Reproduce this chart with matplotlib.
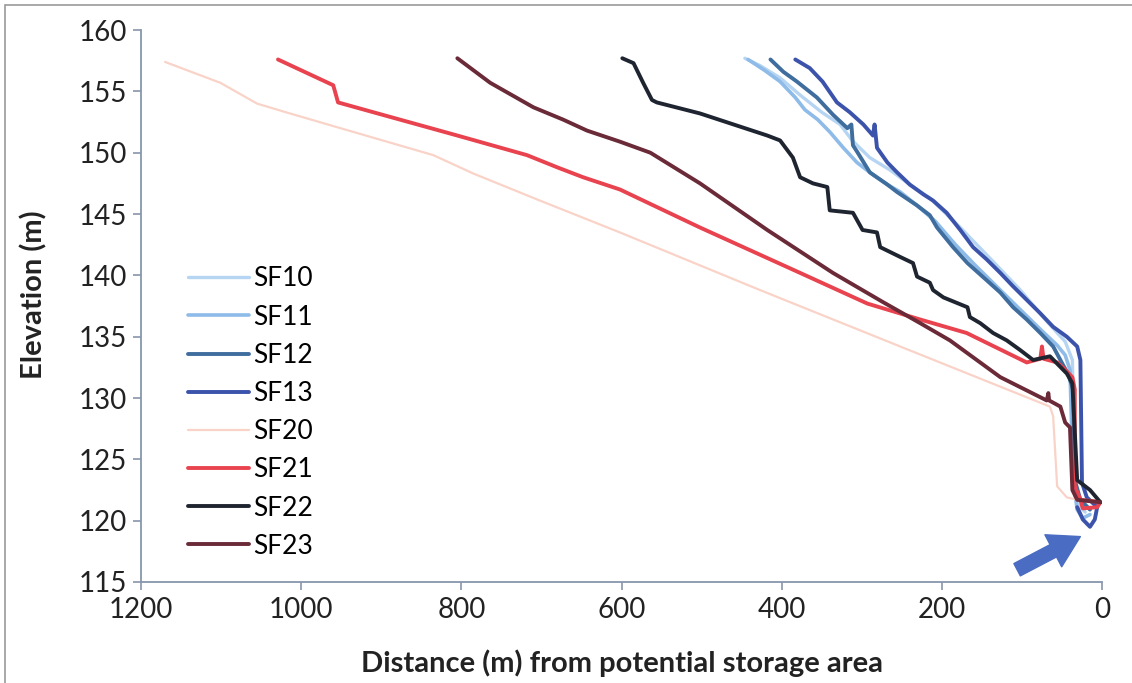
import matplotlib
matplotlib.use("Agg")
import matplotlib.pyplot as plt
from matplotlib.patches import Rectangle

plt.rcParams['font.family'] = ['Lato', 'DejaVu Sans']

# series (distance m, elevation m)
sf10_x = [446, 427, 402, 377, 350, 327, 312, 290, 265, 240, 215, 177, 140, 102, 71, 46, 37, 34, 30, 21]
sf10_y = [157.7, 157.1, 156.1, 154.7, 153.3, 152.3, 151.0, 149.6, 148.6, 147.4, 146.3, 143.9, 141.4, 138.8,
          136.4, 134.6, 133.1, 123.3, 121.3, 120.7]

sf11_x = [442, 421, 402, 383, 371, 355, 340, 323, 306, 286, 268, 252, 231, 208, 183, 158, 127, 102, 77, 56,
          46, 40, 36, 31, 24, 15]
sf11_y = [157.6, 156.7, 155.8, 154.5, 153.5, 152.7, 151.7, 150.4, 149.2, 148.2, 147.4, 146.8, 145.7, 144.4,
          142.5, 140.8, 138.8, 137.2, 135.6, 134.3, 133.5, 132.3, 123.3, 120.9, 120.2, 120.5]

sf12_x = [414, 398, 381, 356, 336, 318, 313, 311, 306, 290, 268, 256, 231, 215, 206, 186, 168, 144, 127, 111,
          94, 77, 61, 52, 42, 36, 34, 27, 15]
sf12_y = [157.6, 156.6, 155.8, 154.5, 153.1, 152.0, 152.3, 150.6, 150.1, 148.4, 147.4, 146.8, 145.7, 144.9,
          143.9, 142.3, 141.0, 139.6, 138.6, 137.4, 136.4, 135.3, 134.2, 133.1, 131.9, 130.7, 123.3, 121.7, 120.9]

sf13_x = [383, 365, 349, 331, 315, 298, 286, 284, 281, 268, 256, 240, 223, 211, 194, 177, 161, 144, 127, 111,
          94, 77, 61, 44, 31, 27, 25, 19, 6, 9, 15, 24, 31]
sf13_y = [157.6, 156.9, 155.8, 154.1, 153.3, 152.3, 151.4, 152.3, 150.4, 149.2, 148.4, 147.4, 146.6, 146.1,
          145.1, 143.7, 142.3, 141.3, 140.2, 139.1, 138.0, 136.9, 135.8, 135.0, 134.2, 133.1, 123.1, 121.9,
          121.1, 120.1, 119.5, 120.1, 121.1]

sf20_x = [1170, 1101, 1055, 1014, 951, 835, 785, 702, 602, 427, 252, 65, 61, 56, 44, 31]
sf20_y = [157.4, 155.7, 154.0, 153.2, 152.0, 149.8, 148.3, 146.1, 143.5, 138.8, 134.2, 129.3, 128.5, 122.8,
          121.9, 121.7]

sf21_x = [1029, 960, 954, 910, 805, 718, 680, 648, 602, 502, 377, 293, 227, 169, 94, 77, 75, 73, 56, 49, 37,
          34, 34, 27, 24, 6, 2, 14, 27]
sf21_y = [157.6, 155.5, 154.1, 153.3, 151.4, 149.8, 148.8, 148.0, 147.0, 143.9, 140.2, 137.7, 136.4, 135.3,
          132.9, 133.2, 134.2, 133.2, 132.9, 132.5, 131.7, 130.7, 122.8, 121.7, 121.0, 121.1, 121.5, 121.6, 121.7]

sf22_x = [599, 585, 573, 562, 556, 502, 418, 402, 386, 377, 361, 343, 340, 311, 299, 281, 277, 252, 236, 231,
          215, 211, 198, 168, 165, 152, 136, 119, 102, 86, 65, 44, 37, 31, 15, 2]
sf22_y = [157.7, 157.3, 155.7, 154.3, 154.1, 153.2, 151.4, 151.0, 149.6, 148.0, 147.5, 147.2, 145.3, 145.1,
          143.7, 143.5, 142.3, 141.5, 141.0, 139.9, 139.4, 138.8, 138.2, 137.4, 136.6, 136.1, 135.3, 134.7,
          133.9, 133.1, 133.4, 132.0, 131.2, 123.3, 122.5, 121.5]

sf23_x = [805, 764, 710, 673, 643, 602, 564, 502, 418, 336, 273, 227, 190, 127, 69, 67, 66, 52, 46, 40, 37,
          31, 2]
sf23_y = [157.7, 155.7, 153.7, 152.7, 151.8, 150.9, 150.0, 147.5, 143.7, 140.2, 137.8, 136.1, 134.7, 131.7,
          129.8, 130.4, 129.8, 129.3, 128.0, 127.6, 122.5, 121.7, 121.5]

labels = ['SF10', 'SF11', 'SF12', 'SF13', 'SF20', 'SF21', 'SF22', 'SF23']
xs = [sf10_x, sf11_x, sf12_x, sf13_x, sf20_x, sf21_x, sf22_x, sf23_x]
ys = [sf10_y, sf11_y, sf12_y, sf13_y, sf20_y, sf21_y, sf22_y, sf23_y]
colors = ['#b6d5f2', '#8ebbe8', '#3f6d9e', '#3b53aa', '#f9d3c8', '#e8434f', '#1f2530', '#6b2a38']
widths = [2.4, 2.6, 2.8, 2.8, 1.6, 2.8, 2.8, 2.8]

fig = plt.figure(figsize=(11.32, 6.83), dpi=100)
ax = fig.add_axes([0.1246, 0.1479, 0.8489, 0.8081])

for x, y, c, w, lab in zip(xs, ys, colors, widths, labels):
    ax.plot(x, y, color=c, lw=w, label=lab, solid_joinstyle='round', solid_capstyle='round')

ax.set_xlim(1200, 0)
ax.set_ylim(115, 160)
ax.set_xticks(range(0, 1201, 200))
ax.set_yticks(range(115, 161, 5))

axis_col = '#8796ac'
for s in ['top', 'right']:
    ax.spines[s].set_visible(False)
for s in ['left', 'bottom']:
    ax.spines[s].set_color(axis_col)
    ax.spines[s].set_linewidth(1.3)
ax.tick_params(axis='both', direction='out', length=6, width=1.2, color=axis_col,
               labelsize=20, labelcolor='#222222')
ax.tick_params(axis='y', pad=4)
ax.tick_params(axis='x', pad=5)

ax.set_ylabel('Elevation (m)', fontsize=21, fontweight='bold', color='#222222')
ax.yaxis.set_label_coords(-0.097, 0.52)
ax.set_xlabel('Distance (m) from potential storage area', fontsize=21, fontweight='bold', color='#222222')
ax.xaxis.set_label_coords(0.5, -0.122)

ax.legend(loc='center left', bbox_to_anchor=(0.049, 0.307), frameon=False, fontsize=19,
          handlelength=2.3, handletextpad=0.15, labelspacing=0.5, borderpad=0, borderaxespad=0)

# arrow pointing at the low point
ax.annotate('', xy=(27, 118.7), xytext=(106, 116.0),
            arrowprops=dict(arrowstyle='simple,head_length=1.1,head_width=1.3,tail_width=0.5',
                            mutation_scale=20, color='#4a6cc2', shrinkA=0, shrinkB=0))

# outer chart frame
fig.patches.append(Rectangle((5 / 1132, -0.05), 1.1, 1.05 - 5 / 683, transform=fig.transFigure,
                             fill=False, edgecolor='#9a9a9a', lw=1.2))

fig.savefig('out.png', dpi=100)
